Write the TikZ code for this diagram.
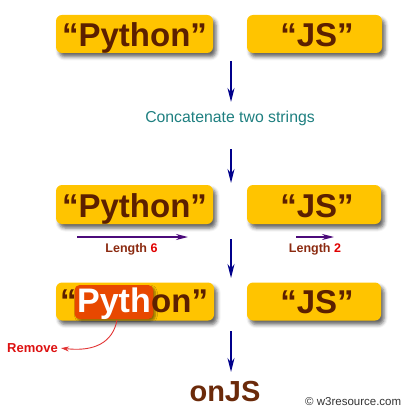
\documentclass[tikz,border=0pt]{standalone}
\usepackage{fontspec}
\setmainfont{Liberation Sans}
\usetikzlibrary{shadows.blur,arrows.meta}
\definecolor{boxy}{HTML}{FFC400}
\definecolor{strbrown}{HTML}{5C2000}
\definecolor{cutorange}{HTML}{E84800}
\definecolor{flownavy}{HTML}{00008B}
\definecolor{lenpurple}{HTML}{4B0A7A}
\definecolor{lenbrown}{HTML}{8B2A10}
\definecolor{lenred}{HTML}{E00000}
\definecolor{opteal}{HTML}{1E7F80}
\definecolor{remred}{HTML}{DD1010}
\definecolor{onbrown}{HTML}{6B2A0A}
\begin{document}
\begin{tikzpicture}[x=1pt,y=-1pt,
  strbox/.style={fill=boxy, rounded corners=6pt, inner sep=0pt,
    blur shadow={shadow xshift=3pt, shadow yshift=-4pt, shadow blur radius=3.5pt, shadow opacity=60}},
  strtxt/.style={font=\bfseries\fontsize{33}{33}\selectfont, text=strbrown, inner sep=0pt, anchor=base},
  cutbox/.style={fill=cutorange, rounded corners=5pt, text=white, font=\bfseries\fontsize{34}{34}\selectfont,
    inner xsep=2.5pt, inner ysep=2pt, text height=25pt, text depth=5pt, anchor=base west,
    blur shadow={shadow xshift=2pt, shadow yshift=-2pt, shadow blur radius=2pt, shadow opacity=45}},
  flow/.style={draw=flownavy, line width=1.6pt, -{Stealth[length=14pt,width=7pt]}},
  lenarrow/.style={draw=lenpurple, line width=1.5pt, -{Stealth[length=12pt,width=6pt]}},
  lentxt/.style={font=\bfseries\fontsize{12.5}{12.5}\selectfont, text=lenbrown, inner sep=0pt, anchor=base},
]
\useasboundingbox (0,0) rectangle (411,414);

% row 1
\node[strbox, minimum width=157pt, minimum height=38pt] (b1) at (134.5,34) {};
\node[strbox, minimum width=135pt, minimum height=38pt] (b2) at (314.5,34) {};
\node[strtxt] (t1) at (134.5,46.5) {“Python”};
\node[strtxt] (t2) at (317,46.5) {“JS”};

% concatenate
\coordinate (a1s) at (231,61);
\coordinate (a1e) at (231,102);
\draw[flow] (a1s) -- (a1e);
\node[font=\fontsize{15.8}{15.8}\selectfont, text=opteal, inner sep=0pt] (cc) at (230,118) {Concatenate two strings};
\coordinate (a2s) at (231,149);
\coordinate (a2e) at (231,183);
\draw[flow] (a2s) -- (a2e);

% row 2
\node[strbox, minimum width=157pt, minimum height=39pt] (b3) at (134.5,204.5) {};
\node[strbox, minimum width=134pt, minimum height=39pt] (b4) at (314,204.5) {};
\node[strtxt] (t3) at (134.5,217) {“Python”};
\node[strtxt] (t4) at (317,217) {“JS”};

\coordinate (l1s) at (77,237);
\coordinate (l1e) at (188,237);
\draw[lenarrow] (l1s) -- (l1e);
\node[lentxt] (len1) at (131.5,252) {Length \textcolor{lenred}{6}};
\coordinate (l2s) at (296,237);
\coordinate (l2e) at (334,237);
\draw[lenarrow] (l2s) -- (l2e);
\node[lentxt] (len2) at (315,252) {Length \textcolor{lenred}{2}};

\coordinate (a3s) at (231,239);
\coordinate (a3e) at (231,278);
\draw[flow] (a3s) -- (a3e);

% row 3
\node[strbox, minimum width=158pt, minimum height=38pt] (b5) at (135,301.5) {};
\node[strbox, minimum width=134pt, minimum height=38pt] (b6) at (314,301.5) {};
\node[strtxt, anchor=base west] (q5) at (60,312) {“};
\node[cutbox] (p5) at ([xshift=-2.5pt]q5.base east) {Pyth};
\node[strtxt, anchor=base west] (r5) at ([xshift=-2.5pt]p5.base east) {on”};
\node[strtxt] (t6) at (317,313) {“JS”};

\node[font=\bfseries\fontsize{13}{13}\selectfont, text=remred, inner sep=0pt, anchor=base west] (rem) at (7,352.5) {Remove};
\coordinate (rs) at (117,320);
\draw[draw=remred!85!white, line width=0.9pt, -{Stealth[length=8pt,width=5pt]}]
  (rs) .. controls (113,342) and (95,352) .. ([xshift=3pt]rem.east);

\coordinate (a4s) at (231,331);
\coordinate (a4e) at (231,372);
\draw[flow] (a4s) -- (a4e);

\node[font=\bfseries\fontsize{29}{29}\selectfont, text=onbrown, inner sep=0pt, anchor=base] (res) at (225,401.5) {onJS};
\node[font=\fontsize{11.5}{11.5}\selectfont, text=black!80, inner sep=0pt, anchor=base west] (cr) at (305,405) {© w3resource.com};
\end{tikzpicture}
\end{document}
